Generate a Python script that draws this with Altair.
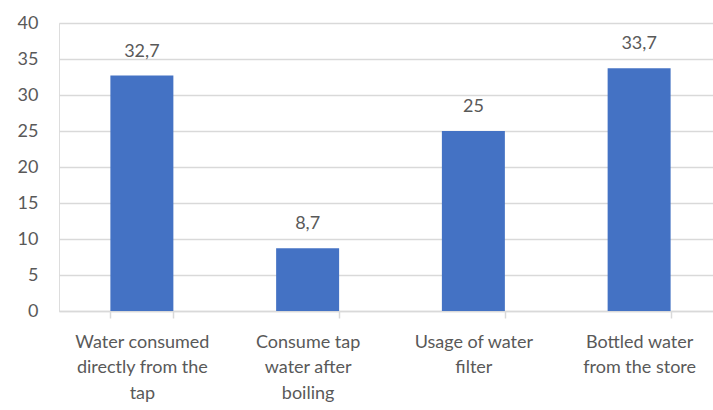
import altair as alt
import pandas as pd

categories = [
    "Water consumed|directly from the|tap",
    "Consume tap|water after|boiling",
    "Usage of water|filter",
    "Bottled water|from the store",
]
values = [32.7, 8.7, 25, 33.7]
y_ticks = [0, 5, 10, 15, 20, 25, 30, 35, 40]

df = pd.DataFrame({"cat": categories, "value": values})

FONT = "Lato"
GRAY = "#595959"

x_enc = alt.X(
    "cat:N",
    sort=categories,
    title=None,
    scale=alt.Scale(paddingInner=0.62, paddingOuter=0.31, range=[0, 663]),
    axis=alt.Axis(
        labelAngle=0,
        labelExpr="split(datum.label, '|')",
        labelFont=FONT,
        labelFontSize=18,
        labelColor=GRAY,
        labelPadding=15,
        labelLineHeight=25.5,
        labelBaseline="top",
        domainColor="#D9D9D9",
        domainWidth=1.5,
        tickColor="#D9D9D9",
        tickWidth=1.5,
        tickSize=7,
        tickBand="extent",
        grid=False,
        labelLimit=300,
    ),
)

y_enc = alt.Y(
    "value:Q",
    title=None,
    scale=alt.Scale(domain=[0, 40], nice=False),
    axis=alt.Axis(
        values=y_ticks,
        labelOverlap=False,
        labelFont=FONT,
        labelFontSize=18,
        labelColor=GRAY,
        labelPadding=21,
        tickSize=0,
        domain=False,
        gridColor="#D9D9D9",
        gridWidth=1.5,
    ),
)

base = alt.Chart(df).encode(x=x_enc, y=y_enc)

bars = base.mark_bar(color="#4472C4")

labels = (
    base.transform_calculate(lbl="replace(toString(datum.value), '.', ',')")
    .mark_text(font=FONT, fontSize=18, color=GRAY, baseline="alphabetic", dy=-19)
    .encode(text="lbl:N")
)

chart = (
    alt.layer(bars, labels)
    .properties(
        width=654,
        height=288,
        autosize=alt.AutoSizeParams(type="none"),
        padding={"left": 59, "top": 23, "right": 0, "bottom": 99},
    )
    .configure_view(stroke=None)
    .configure(background="white")
)

chart.save("out.html", embed_options={"renderer": "svg", "actions": False})
